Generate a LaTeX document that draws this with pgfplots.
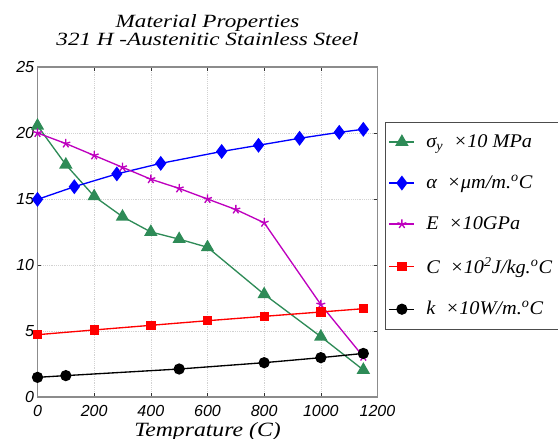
\documentclass[border=0pt]{standalone}
\usepackage{fontspec}
\setmainfont{Liberation Serif}
\setsansfont{Liberation Sans}
\newfontfamily\titlefont[FakeStretch=1.24]{Liberation Serif}
\newfontfamily\xlabfont[FakeStretch=1.17]{Liberation Serif}
\newfontfamily\legfont[FakeStretch=1.05]{Liberation Serif}
\usepackage{pgfplots}
\pgfplotsset{compat=1.18}
\definecolor{cgreen}{RGB}{46,139,87}
\definecolor{cmag}{RGB}{190,0,190}
\begin{document}
\begin{tikzpicture}
\begin{axis}[
  scale only axis,
  width=255pt, height=247.5pt,
  xmin=0, xmax=1200, ymin=0, ymax=25,
  xtick={0,200,...,1200}, ytick={0,5,...,25},
  /pgf/number format/assume math mode=true,
  /pgf/number format/1000 sep={},
  ticklabel style={font=\sffamily\itshape\fontsize{12}{13}\selectfont},
  yticklabel style={xshift=1pt},
  xticklabel style={inner sep=0pt, text depth=0pt, yshift=-6pt},
  tick align=inside, major tick length=3pt,
  tick style={black!80, line width=0.5pt},
  axis line style={gray!90, line width=0.8pt},
  grid=major,
  grid style={densely dotted, gray!35, line width=0.4pt},
  title style={font=\titlefont\itshape\fontsize{14}{13.5}\selectfont, align=center,
    at={(0.5,1)}, anchor=south, inner sep=0pt, yshift=9.5pt},
  title={Material Properties\\321 H -Austenitic Stainless Steel},
  xlabel={Temprature (C)},
  xlabel style={font=\xlabfont\itshape\fontsize{15.2}{17}\selectfont,
    at={(axis description cs:0.5,0)}, anchor=base, inner sep=0pt, yshift=-29.5pt},
  legend style={at={(1.022,0.833)}, anchor=north west, draw=black!70, line width=0.6pt,
    font=\legfont\itshape\fontsize{14.5}{15}\selectfont, row sep=15.5pt, inner xsep=2.5pt, inner ysep=7pt,
    /tikz/every odd column/.append style={column sep=6.5pt}},
  legend cell align=left,
  legend image code/.code={\draw[mark repeat=2,mark phase=2] plot coordinates {(0cm,0cm) (0.33cm,0cm) (0.66cm,0cm)};},
  every axis plot/.append style={line width=1pt},
]
\addplot[cgreen, mark=triangle*, mark size=4.8pt] coordinates {
(0,20.55) (100,17.6) (200,15.2) (300,13.66) (400,12.5) (500,11.96) (600,11.34) (800,7.78) (1000,4.57) (1150,2.05)};
\addlegendentry{σ\textsubscript{y}\ \ ×10 MPa}
\addplot[blue, mark=diamond*, mark size=4.8pt] coordinates {
(0,14.97) (130,15.93) (280,16.9) (435,17.7) (650,18.6) (780,19.07) (925,19.6) (1065,20.05) (1150,20.28)};
\addlegendentry{α\ \ ×μm/m.\textsuperscript{o}C}
\addplot[cmag, mark=star, mark size=3.5pt] coordinates {
(0,20.0) (100,19.2) (200,18.3) (300,17.4) (400,16.5) (500,15.8) (600,15.0) (700,14.2) (800,13.2) (1000,7.0) (1150,3.05)};
\addlegendentry{E\ \ ×10GPa}
\addplot[red, mark=square*, mark size=3pt] coordinates {
(0,4.72) (200,5.08) (400,5.43) (600,5.78) (800,6.11) (1000,6.44) (1150,6.69)};
\addlegendentry{C\ \ ×10\textsuperscript{2}J/kg.\textsuperscript{o}C}
\addplot[black, mark=*, mark size=3.7pt] coordinates {
(0,1.49) (100,1.62) (500,2.12) (800,2.6) (1000,2.98) (1150,3.3)};
\addlegendentry{k\ \ ×10W/m.\textsuperscript{o}C}
\end{axis}
\pgfresetboundingbox
\path[use as bounding box] (-28.125pt,-31.5pt) rectangle (390.375pt,297.75pt);
\end{tikzpicture}
\end{document}
